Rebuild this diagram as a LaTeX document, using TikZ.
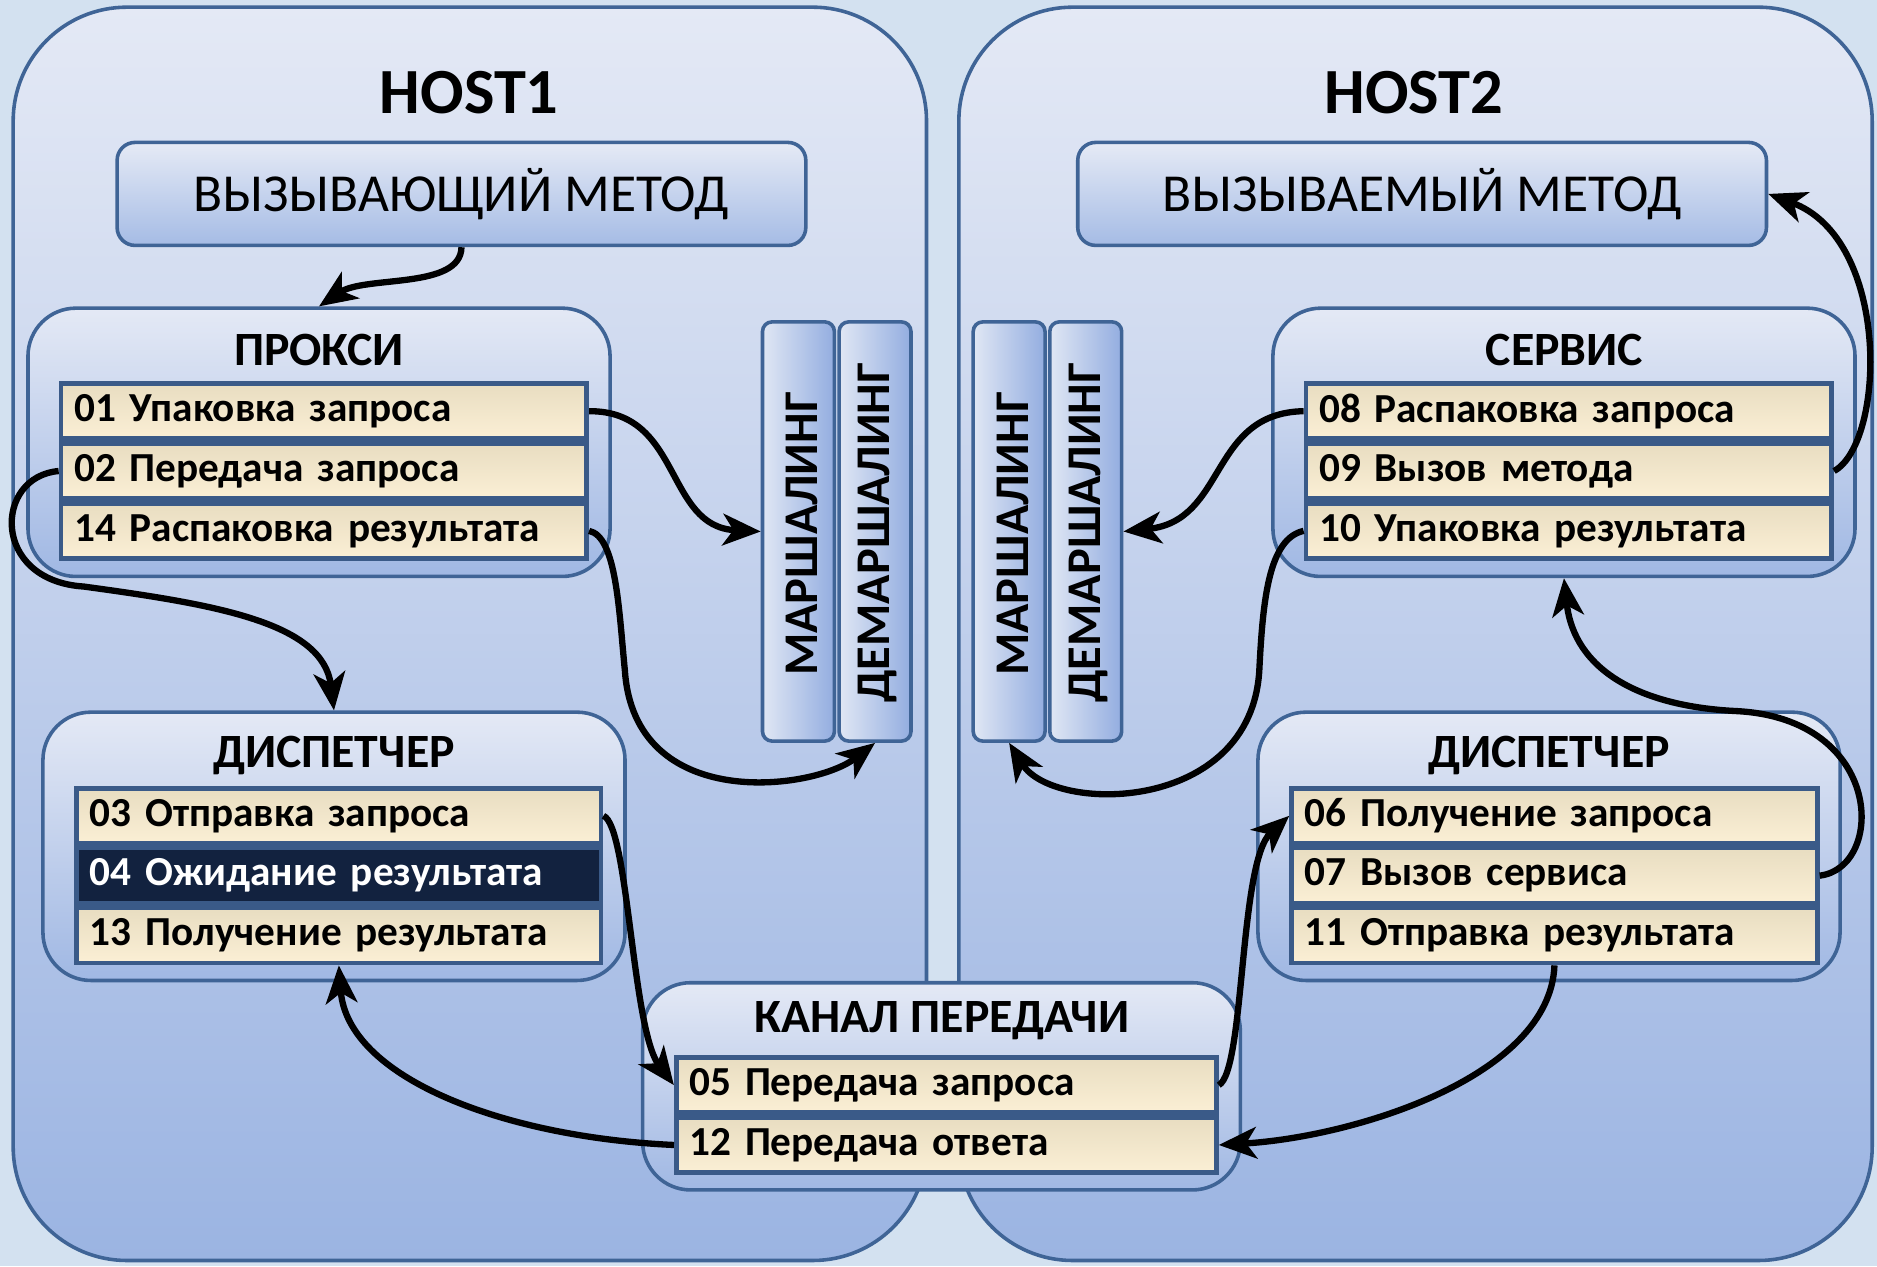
\documentclass[tikz,border=0pt]{standalone}
\usepackage{fontspec}
\setmainfont{Carlito}
\usetikzlibrary{arrows.meta}
\definecolor{bgblue}{HTML}{D3E1F0}
\definecolor{hosttop}{HTML}{E4E9F5}
\definecolor{hostbot}{HTML}{9BB4E2}
\definecolor{edgeblue}{HTML}{3F6496}
\definecolor{rowblue}{HTML}{3A5A88}
\definecolor{cream}{HTML}{FBEFD5}
\definecolor{creamtop}{HTML}{E8DDC1}
\definecolor{navy}{HTML}{12223F}
\definecolor{colleft}{HTML}{E0E7F4}
\definecolor{colright}{HTML}{93ADE0}
\begin{document}
\begin{tikzpicture}[x=0.01cm,y=-0.01cm,
  hostbox/.style={draw=edgeblue, line width=0.85pt, top color=hosttop, bottom color=hostbot, rounded corners=0.95cm},
  methodbox/.style={draw=edgeblue, line width=0.85pt, top color=hosttop!95!white, bottom color=hostbot!90!white, rounded corners=0.15cm, minimum width=5.75cm, minimum height=0.86cm, font=\fontsize{12.7}{15}\selectfont},
  groupbox/.style={draw=edgeblue, line width=0.85pt, top color=hosttop, bottom color=hostbot!95!white, rounded corners=0.4cm, minimum width=4.86cm, minimum height=2.24cm},
  colbox/.style={draw=edgeblue, line width=0.85pt, left color=colleft, right color=colright, rounded corners=0.08cm, minimum width=0.60cm, minimum height=3.50cm},
  coltext/.style={rotate=90, font=\bfseries\fontsize{11.5}{13}\selectfont},
  titletext/.style={font=\bfseries\fontsize{11.35}{13}\selectfont},
  hosttext/.style={font=\bfseries\fontsize{15.3}{18}\selectfont},
  rowbox/.style={draw=rowblue, line width=1.1pt, top color=creamtop, bottom color=cream, minimum height=0.46cm, inner ysep=0pt, inner xsep=0.11cm, text width=#1, align=left, anchor=west, font=\bfseries\fontsize{9.8}{11}\selectfont},
  darkrow/.style={rowbox=#1, top color=navy, bottom color=navy, text=white},
  conn/.style={line width=1.5pt, -{Stealth[length=9pt,width=7.5pt,inset=2.5pt]}}
]
\useasboundingbox (0,0) rectangle (1568,1058);
\fill[bgblue] (0,0) rectangle (1568,1058);

% host panels
\draw[hostbox] (11,6) rectangle (774,1053);
\draw[hostbox] (801,6) rectangle (1564,1053);
\node[hosttext] (h1) at (392,77) {HOST1};
\node[hosttext] (h2) at (1181,77) {HOST2};

% method boxes
\node[methodbox] (m1) at (385.5,162) {ВЫЗЫВАЮЩИЙ МЕТОД};
\node[methodbox] (m2) at (1188,162) {ВЫЗЫВАЕМЫЙ МЕТОД};

% groups
\node[groupbox] (proxy) at (266.5,369.5) {};
\node[titletext] (proxyt) at (266.5,292) {ПРОКСИ};
\node[groupbox] (disp1) at (279,707) {};
\node[titletext] (disp1t) at (279,631) {ДИСПЕТЧЕР};
\node[groupbox] (serv) at (1306.5,369.5) {};
\node[titletext] (servt) at (1307,292) {СЕРВИС};
\node[groupbox] (disp2) at (1294,707) {};
\node[titletext] (disp2t) at (1294,631) {ДИСПЕТЧЕР};
\node[groupbox, minimum width=4.99cm, minimum height=1.73cm] (chan) at (786.5,907.5) {};
\node[titletext] (chant) at (787,853) {КАНАЛ ПЕРЕДАЧИ};

% rows
\node[rowbox=4.17cm] (r01) at (49,343.5) {01 Упаковка запроса};
\node[rowbox=4.17cm] (r02) at (49,393.5) {02 Передача запроса};
\node[rowbox=4.17cm] (r14) at (49,443.5) {14 Распаковка результата};

\node[rowbox=4.16cm] (r03) at (62,681.5) {03 Отправка запроса};
\node[darkrow=4.16cm] (r04) at (62,731.5) {04 Ожидание результата};
\node[rowbox=4.16cm] (r13) at (62,781.5) {13 Получение результата};

\node[rowbox=4.29cm] (r05) at (563,906.5) {05 Передача запроса};
\node[rowbox=4.29cm] (r12) at (563,956.5) {12 Передача ответа};

\node[rowbox=4.17cm] (r08) at (1089,343.5) {08 Распаковка запроса};
\node[rowbox=4.17cm] (r09) at (1089,393.5) {09 Вызов метода};
\node[rowbox=4.17cm] (r10) at (1089,443.5) {10 Упаковка результата};

\node[rowbox=4.17cm] (r06) at (1077,681.5) {06 Получение запроса};
\node[rowbox=4.17cm] (r07) at (1077,731.5) {07 Вызов сервиса};
\node[rowbox=4.17cm] (r11) at (1077,781.5) {11 Отправка результата};

% marshaling columns
\node[colbox] (ma1) at (667,444) {};
\node[coltext] (ma1t) at (670,446) {МАРШАЛИНГ};
\node[colbox] (dm1) at (731,444) {};
\node[coltext] (dm1t) at (733,445) {ДЕМАРШАЛИНГ};
\node[colbox] (ma2) at (843,444) {};
\node[coltext] (ma2t) at (846,446) {МАРШАЛИНГ};
\node[colbox] (dm2) at (907,444) {};
\node[coltext] (dm2t) at (909,445) {ДЕМАРШАЛИНГ};

% connectors
\draw[conn] (m1.south) .. controls (385,242) and (305,230) .. (proxy.north);
\draw[conn] (r01.east) .. controls (570,343) and (555,440) .. (ma1.west);
\draw[conn] (r02.west) .. controls (-5,398) and (-8,485) .. (70,490) .. controls (180,505) and (270,520) .. (disp1.north);
\draw[conn] (r14.east) .. controls (515,448) and (517,510) .. (522,560) .. controls (530,680) and (680,660) .. (dm1.south);
\draw[conn] (r03.east) .. controls (525,690) and (528,860) .. (r05.west);
\draw[conn] (r12.west) .. controls (420,950) and (290,900) .. (r13.south);
\draw[conn] (r05.east) .. controls (1040,895) and (1035,720) .. (r06.west);
\draw[conn] (r07.east) .. controls (1575,725) and (1575,600) .. (1450,594) .. controls (1370,590) and (1315,560) .. (serv.south);
\draw[conn] (r09.east) .. controls (1575,370) and (1580,200) .. (m2.east);
\draw[conn] (r08.west) .. controls (1010,345) and (1025,435) .. (dm2.east);
\draw[conn] (r11.south) .. controls (1295,900) and (1130,950) .. (r12.east);
\draw[conn] (r10.west) .. controls (1060,450) and (1055,500) .. (1052,560) .. controls (1045,680) and (880,680) .. (ma2.south);
\end{tikzpicture}
\end{document}
